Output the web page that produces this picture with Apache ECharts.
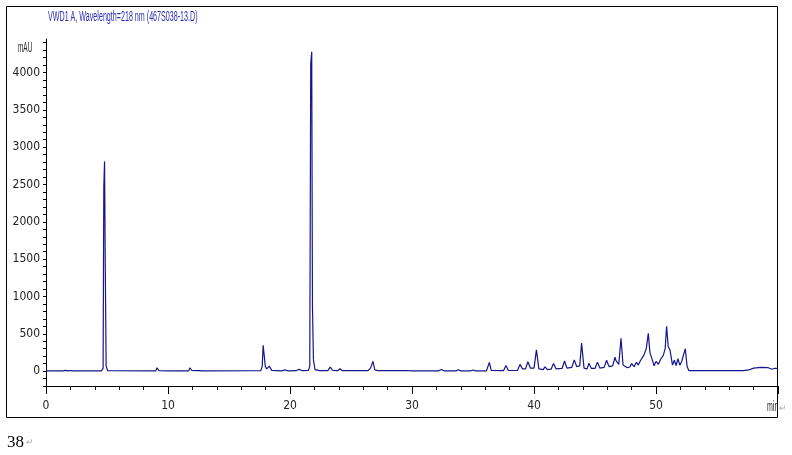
<!DOCTYPE html>
<html>
<head>
<meta charset="utf-8">
<script src="https://cdn.jsdelivr.net/npm/echarts@6/dist/echarts.min.js"></script>
<style>
  html, body { margin: 0; padding: 0; background: #fff; }
  #chart { width: 792px; height: 455px; }
</style>
</head>
<body>
<div id="chart"></div>
<script>
// retention time (min) and detector signal (mAU)
var times = [
  0, 1.4, 1.6, 1.8, 2.0, 2.2,
  4.55, 4.68, 4.74, 4.80, 4.86, 4.93, 5.05,
  9.0, 9.1, 9.25, 10.1, 10.2, 10.35, 11.7, 11.8, 11.95, 12.3, 12.4, 12.55, 12.7, 12.85,
  17.6, 17.72, 17.8, 17.88, 17.98, 18.1, 18.3, 18.5, 19.3, 19.6, 19.85, 20.5, 20.75, 21.0,
  21.5, 21.62, 21.7, 21.78, 21.84, 21.92, 22.05, 22.4,
  23.1, 23.3, 23.5, 23.9, 24.1, 24.3, 26.4, 26.6, 26.8, 26.95, 27.2, 29.5, 30.0,
  32.2, 32.4, 32.6, 33.6, 33.8, 34.0, 34.8, 35.0, 35.2,
  36.1, 36.34, 36.5, 37.5, 37.7, 37.9, 38.65, 38.85, 39.05, 39.3, 39.5, 39.7,
  40.0, 40.2, 40.4, 40.75, 40.9, 41.1, 41.4, 41.6, 41.8, 42.3, 42.5, 42.7,
  43.1, 43.3, 43.5, 43.75, 43.9, 44.1, 44.35, 44.5, 44.7, 45.0, 45.2, 45.4,
  45.75, 45.95, 46.15, 46.45, 46.64, 46.72, 46.8, 46.95, 47.13, 47.3, 47.46, 47.65,
  47.85, 48.0, 48.2, 48.4, 48.55, 48.74, 48.85, 49.0, 49.2, 49.37, 49.5, 49.64, 49.85,
  50.0, 50.2, 50.4, 50.5, 50.6, 50.75, 50.87, 51.0, 51.15, 51.35, 51.5, 51.65,
  51.8, 51.95, 52.1, 52.25, 52.4, 52.55, 52.7,
  57.2, 57.6, 58.0, 58.6, 59.2, 59.5, 59.7, 60.0
];
var mAU = [
  2, 2, 10, 3, 8, 2,
  2, 40, 2480, 2810, 1360, 70, 5,
  3, 45, 5, 3, 12, 3, 3, 45, 8, 5, 18, 5, 12, 3,
  5, 60, 345, 362, 60, 30, 67, 10, 3, 15, 3, 5, 25, 5,
  8, 60, 4120, 4280, 880, 150, 20, 5,
  5, 54, 8, 5, 32, 5, 5, 40, 130, 15, 5, 8, 3,
  3, 22, 3, 3, 18, 3, 3, 15, 3,
  3, 115, 10, 5, 75, 8, 8, 90, 30, 30, 125, 40,
  40, 285, 30, 20, 56, 20, 25, 100, 30, 35, 135, 40,
  50, 150, 60, 70, 375, 40, 30, 105, 35, 35, 120, 40,
  50, 145, 60, 70, 185, 140, 165, 90, 440, 80, 75, 45,
  55, 100, 60, 118, 80, 145, 130, 210, 300, 505, 250, 235, 70,
  130, 90, 165, 140, 210, 300, 600, 330, 280, 80, 145, 75,
  165, 80, 125, 120, 300, 60, 5,
  5, 15, 40, 50, 45, 25, 35, 35
];

var yLabels = [0, 500, 1000, 1500, 2000, 2500, 3000, 3500, 4000];
var yTicks = [-200, -100, 0, 100, 200, 300, 400, 500, 600, 700, 800, 900, 1000,
  1100, 1200, 1300, 1400, 1500, 1600, 1700, 1800, 1900, 2000, 2100, 2200, 2300, 2400,
  2500, 2600, 2700, 2800, 2900, 3000, 3100, 3200, 3300, 3400, 3500, 3600, 3700, 3800,
  3900, 4000, 4100, 4200, 4300, 4400];

var points = [];
for (var i = 0; i < times.length; i++) points.push([times[i], mAU[i]]);

var cond = '"DejaVu Sans Condensed", "Liberation Sans", sans-serif';
function plain(v) { return String(v); }

// thin strips under the time axis: their split lines serve as the tick marks
function tickAxis(gridIndex, step) {
  return {
    type: 'value', gridIndex: gridIndex, min: 0, max: 60, interval: step,
    axisLine: { show: false }, axisTick: { show: false }, axisLabel: { show: false },
    splitLine: { show: true, lineStyle: { color: '#000', width: 1 } }
  };
}
function hiddenY(gridIndex) {
  return {
    type: 'value', gridIndex: gridIndex, min: 0, max: 1,
    axisLine: { show: false }, axisTick: { show: false }, axisLabel: { show: false },
    splitLine: { show: false }
  };
}

var myChart = echarts.init(document.getElementById('chart'));
var option = {
  animation: false,
  backgroundColor: '#fff',
  grid: [
    { left: 46, right: 14, top: 39, bottom: 69 },
    { left: 46, right: 14, top: 386, height: 8 },
    { left: 46, right: 14, top: 386, height: 4 }
  ],
  xAxis: [
    {
      type: 'value', gridIndex: 0, min: 0, max: 60, interval: 10,
      axisLine: { onZero: false, lineStyle: { color: '#000', width: 1 } },
      axisTick: { show: false },
      axisLabel: { margin: 14, formatter: plain, showMaxLabel: false, color: '#222', fontFamily: cond, fontSize: 12 },
      splitLine: { show: false }
    },
    tickAxis(1, 10),
    tickAxis(2, 2)
  ],
  yAxis: [
    {
      type: 'value', gridIndex: 0, min: -200, max: 4450,
      axisLine: { show: true, onZero: false, lineStyle: { color: '#000', width: 1 } },
      axisTick: { show: true, inside: false, customValues: yTicks, length: 3, lineStyle: { color: '#000', width: 1 } },
      axisLabel: { customValues: yLabels, margin: 6, formatter: plain, color: '#222', fontFamily: cond, fontSize: 12 },
      splitLine: { show: false }
    },
    hiddenY(1),
    hiddenY(2)
  ],
  series: [
    {
      type: 'line',
      xAxisIndex: 0,
      yAxisIndex: 0,
      data: points,
      showSymbol: false,
      symbol: 'none',
      lineStyle: { color: '#15158c', width: 1.2 }
    }
  ],
  graphic: [
    {
      type: 'rect', silent: true,
      shape: { x: 6.5, y: 6.5, width: 771, height: 411 },
      style: { fill: 'none', stroke: '#000', lineWidth: 1 }
    },
    {
      type: 'text', x: 48, y: 10, scaleX: 0.51,
      style: { text: 'VWD1 A, Wavelength=218 nm (467S038-13.D)', fill: '#2b2bb5', font: '14px "Liberation Sans"' }
    },
    {
      type: 'text', x: 18, y: 41, scaleX: 0.46,
      style: { text: 'mAU', fill: '#222', font: '14px "Liberation Sans"' }
    },
    {
      type: 'text', x: 767, y: 400, scaleX: 0.5,
      style: { text: 'min', fill: '#222', font: '14px "Liberation Sans"' }
    },
    {
      type: 'text', x: 779, y: 404,
      style: { text: '\u21B5', fill: '#aaa', font: '9px sans-serif' }
    },
    {
      type: 'text', x: 7, y: 434,
      style: { text: '38', fill: '#000', font: '17px "Liberation Serif", "DejaVu Serif", serif' }
    },
    {
      type: 'text', x: 26, y: 438,
      style: { text: '\u21B5', fill: '#aaa', font: '9px sans-serif' }
    }
  ]
};
myChart.setOption(option);
</script>
</body>
</html>
